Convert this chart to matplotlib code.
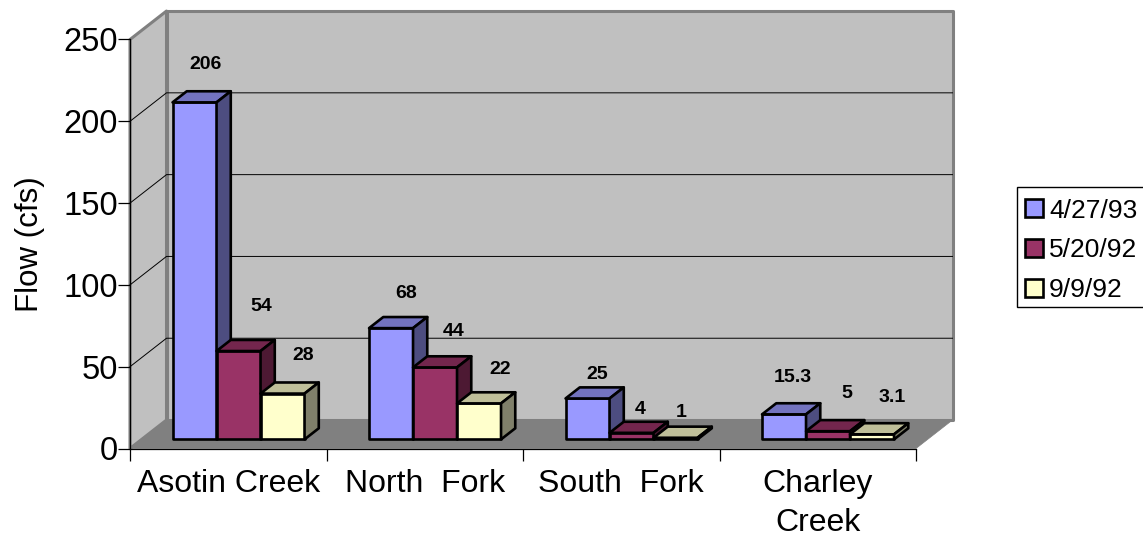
import matplotlib
matplotlib.use("Agg")
import matplotlib.pyplot as plt
from matplotlib.patches import Patch, Polygon, Rectangle

plt.rcParams['font.family'] = ['Liberation Sans', 'DejaVu Sans']

sites = ['Asotin Creek', 'North  Fork', 'South  Fork', 'Charley\nCreek']
dates = ['4/27/93', '5/20/92', '9/9/92']
flow_apr93 = [206, 68, 25, 15.3]
flow_may92 = [54, 44, 4, 5]
flow_sep92 = [28, 22, 1, 3.1]
y_ticks = [0, 50, 100, 150, 200, 250]

# face colours per series: front, top, side
FACES = [('#9999FF', '#7373BF', '#4D4D80'),
         ('#993366', '#73264D', '#4D1933'),
         ('#FFFFCC', '#BFBF99', '#80806A')]
WALL = '#C0C0C0'
FLOOR = '#808080'

# oblique projection of the box, in data units for full depth
DEPTH_X = 36.5 / 196.5
DEPTH_Y = 17.4
# bars sit between these fractions of the depth
BAR_D0, BAR_D1 = 0.32, 0.71
BAR_W = 44 / 196.5
BAR_GAP = 0.157
YMAX = 250

# hand placed value labels, pixel offset from the top of each bar's front face
label_nudges = [[(11, 38), (23, 45), (21, 38)],
                [(15, 35), (19, 36), (21, 34)],
                [(10, 24), (9, 23), (6, 25)],
                [(9, 37), (19, 38), (20, 37)]]


def proj(x, y, d):
    return (x + d * DEPTH_X, y + d * DEPTH_Y)


def poly(ax, pts, face, edge='black', lw=1.9, z=2):
    ax.add_patch(Polygon(pts, closed=True, facecolor=face, edgecolor=edge,
                         linewidth=lw, joinstyle='round', clip_on=False, zorder=z))


def draw_bar(ax, x0, x1, h, colors, z):
    front, top, side = colors
    d0, d1 = BAR_D0, BAR_D1
    poly(ax, [proj(x0, 0, d0), proj(x1, 0, d0), proj(x1, h, d0), proj(x0, h, d0)], front, z=z)
    poly(ax, [proj(x0, h, d0), proj(x1, h, d0), proj(x1, h, d1), proj(x0, h, d1)], top, z=z)
    poly(ax, [proj(x1, 0, d0), proj(x1, 0, d1), proj(x1, h, d1), proj(x1, h, d0)], side, z=z)


def main():
    fig = plt.figure(figsize=(11.43, 5.37), dpi=100)
    ax = fig.add_axes([130 / 1143, 1 - 448.5 / 537, 786 / 1143, 409 / 537])
    ax.set_xlim(0, len(sites))
    ax.set_ylim(0, YMAX)
    ax.patch.set_visible(False)

    # walls and floor
    n = len(sites)
    poly(ax, [proj(0, 0, 1), proj(n, 0, 1), proj(n, YMAX, 1), proj(0, YMAX, 1)],
         WALL, edge=FLOOR, lw=2.2, z=0)
    poly(ax, [proj(0, 0, 0), proj(0, 0, 1), proj(0, YMAX, 1), proj(0, YMAX, 0)],
         WALL, edge=FLOOR, lw=2.2, z=0)
    poly(ax, [proj(0, 0, 0), proj(n, 0, 0), proj(n, 0, 1), proj(0, 0, 1)],
         FLOOR, edge=FLOOR, lw=0.5, z=0.5)

    # gridlines run across the side wall and along the back wall
    for v in y_ticks[1:-1]:
        xs, ys = zip(proj(0, v, 0), proj(0, v, 1), proj(n, v, 1))
        ax.plot(xs, ys, color='black', lw=0.7, clip_on=False, zorder=1)

    series = [flow_apr93, flow_may92, flow_sep92]
    z = 3
    for i in range(n):
        for s, vals in enumerate(series):
            x0 = i + BAR_GAP + s * BAR_W
            draw_bar(ax, x0, x0 + BAR_W, vals[i], FACES[s], z)
            z += 1
            cx, top = proj(x0 + BAR_W / 2, vals[i], BAR_D0)
            ax.annotate(f'{vals[i]:g}', (cx, top), xytext=label_nudges[i][s],
                        textcoords='offset pixels', ha='center', va='center',
                        fontsize=14, fontweight='bold', zorder=50, annotation_clip=False)

    for name in ['top', 'right']:
        ax.spines[name].set_visible(False)
    for name in ['left', 'bottom']:
        ax.spines[name].set_linewidth(0.9)
        ax.spines[name].set_zorder(2)

    ax.set_yticks(y_ticks)
    ax.tick_params(axis='y', length=8.5, width=0.9, labelsize=23.5, pad=0)
    ax.set_xticks(range(n + 1))
    ax.set_xticklabels([])
    ax.tick_params(axis='x', which='major', length=8.5, width=0.9)
    ax.set_xticks([i + 0.5 for i in range(n)], minor=True)
    ax.set_xticklabels(sites, minor=True, fontsize=23, linespacing=1.38)
    ax.tick_params(axis='x', which='minor', length=0, pad=15)
    ax.set_ylabel('Flow (cfs)', fontsize=22.5)
    ax.yaxis.set_label_coords(45 / 1143, 1 - 244.5 / 537, transform=fig.transFigure)

    # legend box runs off the right edge, so it gets its own frame
    fig.add_artist(Rectangle((1017 / 1143, 1 - 307 / 537), 140 / 1143, 120 / 537,
                             transform=fig.transFigure, facecolor='white',
                             edgecolor='black', linewidth=1.0, zorder=1))
    handles = [Patch(facecolor=c[0], edgecolor='black', linewidth=1.9) for c in FACES]
    fig.legend(handles, dates, loc='upper left',
               bbox_to_anchor=(1025 / 1143, 1 - 198.5 / 537),
               fontsize=19, frameon=False,
               handlelength=0.68, handleheight=0.68, handletextpad=0.23,
               labelspacing=0.6, borderpad=0, borderaxespad=0)

    fig.savefig('out.png', dpi=100)
    plt.close(fig)


if __name__ == "__main__":
    main()
